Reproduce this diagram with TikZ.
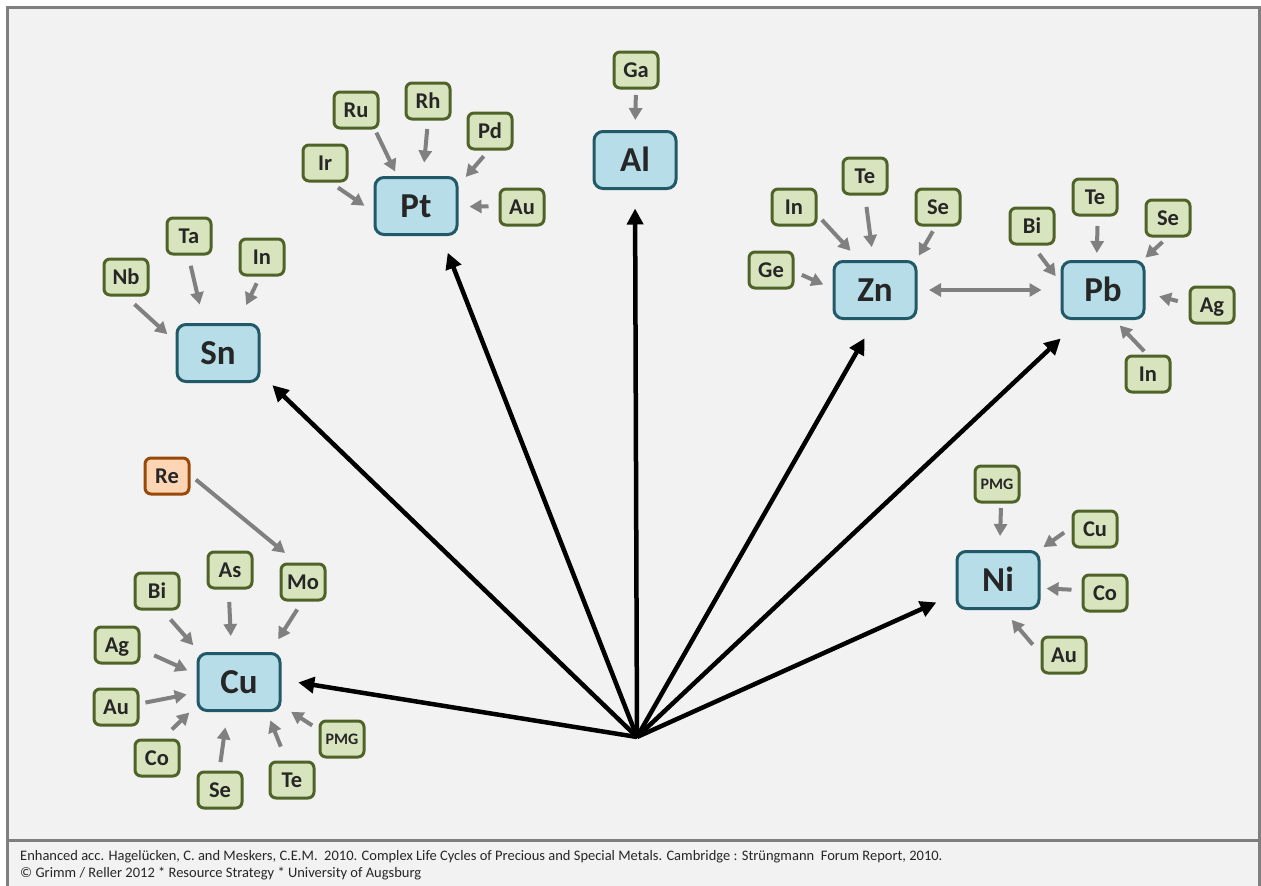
\documentclass[tikz,border=0pt]{standalone}
\usepackage{fontspec}
\setmainfont{Carlito}
\usetikzlibrary{arrows.meta}
\definecolor{bg}{HTML}{F2F2F2}
\definecolor{framec}{HTML}{7F7F7F}
\definecolor{mfill}{HTML}{B7DEE8}
\definecolor{mdraw}{HTML}{215968}
\definecolor{sfill}{HTML}{D7E4BD}
\definecolor{sdraw}{HTML}{4F6228}
\definecolor{rfill}{HTML}{FCD5B5}
\definecolor{rdraw}{HTML}{984807}
\definecolor{txt}{HTML}{262626}
\definecolor{garrow}{HTML}{808080}
\tikzset{
  mainbox/.style={draw=mdraw, fill=mfill, line width=3pt, rounded corners=9pt,
    minimum width=82pt, minimum height=57pt, inner sep=0pt, text=txt,
    font=\fontsize{35}{40}\selectfont\bfseries, text height=22pt, text depth=0pt},
  smallbox/.style={draw=sdraw, fill=sfill, line width=3pt, rounded corners=6pt,
    minimum width=44pt, minimum height=36pt, inner sep=0pt, text=txt,
    font=\fontsize{22.5}{26}\selectfont\bfseries, text height=14.5pt, text depth=0pt},
  tinybox/.style={smallbox, font=\fontsize{16}{18}\selectfont\bfseries, text height=10pt},
  rebox/.style={smallbox, draw=rdraw, fill=rfill},
  ga/.style={draw=garrow, line width=4pt, -{Triangle[length=12pt,width=13pt]}},
  gab/.style={draw=garrow, line width=4pt, {Triangle[length=12pt,width=13pt]}-{Triangle[length=12pt,width=13pt]}},
  ba/.style={draw=black, line width=4.5pt, -{Triangle[length=16pt,width=16pt]}},
  foot/.style={anchor=base west, inner sep=0pt, text=txt, font=\fontsize{14.5}{16}\selectfont},
}
\begin{document}
\begin{tikzpicture}[x=1pt,y=-1pt]
\useasboundingbox (0,0) rectangle (1261,886);
\fill[white] (0,0) rectangle (1261,886);
\draw[framec, fill=bg, line width=3pt] (7.5,7.5) rectangle (1259.5,900);
\draw[framec, line width=3pt] (7.5,840.5) -- (1259.5,840.5);

% main nodes
\node[mainbox] (Pt) at (416,206) {Pt};
\node[mainbox] (Al) at (635,160) {Al};
\node[mainbox] (Sn) at (218,353) {Sn};
\node[mainbox] (Zn) at (875,290) {Zn};
\node[mainbox] (Pb) at (1103,290) {Pb};
\node[mainbox] (Ni) at (998,580) {Ni};
\node[mainbox] (Cu) at (239,682) {Cu};

% Pt group
\node[smallbox] (ptIr) at (325,163) {Ir};
\node[smallbox] (ptRu) at (356,110) {Ru};
\node[smallbox] (ptRh) at (428,101) {Rh};
\node[smallbox] (ptPd) at (490,131) {Pd};
\node[smallbox] (ptAu) at (522,207) {Au};
% Al group
\node[smallbox] (alGa) at (636,70) {Ga};
% Sn group
\node[smallbox] (snNb) at (126,277) {Nb};
\node[smallbox] (snTa) at (189,236) {Ta};
\node[smallbox] (snIn) at (262,257) {In};
% Zn group
\node[smallbox] (znIn) at (794,207) {In};
\node[smallbox] (znTe) at (865,176) {Te};
\node[smallbox] (znSe) at (938,207) {Se};
\node[smallbox] (znGe) at (771,270) {Ge};
% Pb group
\node[smallbox] (pbBi) at (1032,226) {Bi};
\node[smallbox] (pbTe) at (1095,197) {Te};
\node[smallbox] (pbSe) at (1168,218) {Se};
\node[smallbox] (pbAg) at (1212,305) {Ag};
\node[smallbox] (pbIn) at (1148,374) {In};
% Ni group
\node[tinybox] (niPMG) at (997,484) {PMG};
\node[smallbox] (niCu) at (1095,529) {Cu};
\node[smallbox] (niCo) at (1105,593) {Co};
\node[smallbox] (niAu) at (1064,655) {Au};
% Cu group
\node[rebox] (cuRe) at (167,476) {Re};
\node[smallbox] (cuAs) at (230,570) {As};
\node[smallbox] (cuMo) at (303,582) {Mo};
\node[smallbox] (cuBi) at (157,591) {Bi};
\node[smallbox] (cuAg) at (117,645) {Ag};
\node[smallbox] (cuAu) at (116,707) {Au};
\node[smallbox] (cuCo) at (157,758) {Co};
\node[smallbox] (cuSe) at (220,790) {Se};
\node[smallbox] (cuTe) at (292,780) {Te};
\node[tinybox] (cuPMG) at (342,739) {PMG};

% gray arrows
\draw[ga, shorten <=9pt, shorten >=11pt] (ptIr.-74) -- (Pt.188);
\draw[ga, shorten <=3.5pt, shorten >=5pt] (ptRu.-46) -- (Pt.122);
\draw[ga, shorten <=8.5pt, shorten >=13.5pt] (ptRh.-90) -- (Pt.77);
\draw[ga, shorten <=7.5pt, shorten >=11pt] (ptPd.-94) -- (Pt.26);
\draw[ga, shorten <=10pt, shorten >=11pt] (ptAu.178) -- (Pt.-1);
\draw[ga, shorten <=5.5pt, shorten >=10pt] (alGa.south) -- (Al.north);
\draw[ga, shorten <=11.5pt, shorten >=11pt] (snNb.-90) -- (Sn.165);
\draw[ga, shorten <=10.5pt, shorten >=19pt] (snTa.-92) -- (Sn.115);
\draw[ga, shorten <=7.5pt, shorten >=20pt] (snIn.-96) -- (Sn.57);
\draw[ga, shorten <=6.5pt, shorten >=12.5pt] (znIn.-19) -- (Zn.118);
\draw[ga, shorten <=11.5pt, shorten >=13pt] (znTe.-90) -- (Zn.93);
\draw[ga, shorten <=5.5pt, shorten >=5pt] (znSe.-97) -- (Zn.36);
\draw[ga, shorten <=8pt, shorten >=10pt] (znGe.-4) -- (Zn.178);
\draw[gab, shorten <=11.5pt, shorten >=19pt] (Zn.east) -- (Pb.west);
\draw[ga, shorten <=10.5pt, shorten >=8pt] (pbBi.-88) -- (Pb.170);
\draw[ga, shorten <=9.5pt, shorten >=7pt] (pbTe.-82) -- (Pb.102);
\draw[ga, shorten <=6.5pt, shorten >=3.5pt] (pbSe.-92) -- (Pb.37);
\draw[ga, shorten <=11pt, shorten >=14pt] (pbAg.177) -- (Pb.-4);
\draw[ga, shorten <=4.5pt, shorten >=7.5pt] (pbIn.92) -- (Pb.-69);
\draw[ga, shorten <=4.5pt, shorten >=14pt] (niPMG.-78) -- (Ni.87);
\draw[ga, shorten <=9pt, shorten >=5pt] (niCu.176) -- (Ni.36);
\draw[ga, shorten <=10pt, shorten >=6pt] (niCo.173) -- (Ni.-11);
\draw[ga, shorten <=12pt, shorten >=13pt] (niAu.177) -- (Ni.-80);
\draw[ga, shorten <=7pt, shorten >=15pt] (cuRe.2) -- (cuMo.108);
\draw[ga, shorten <=12.5pt, shorten >=16pt] (cuAs.-94) -- (Cu.104);
\draw[ga, shorten <=9.5pt, shorten >=15pt] (cuMo.-92) -- (Cu.44);
\draw[ga, shorten <=12pt, shorten >=9pt] (cuBi.-74) -- (Cu.143);
\draw[ga, shorten <=15pt, shorten >=10pt] (cuAg.-10) -- (Cu.170);
\draw[ga, shorten <=6pt, shorten >=10pt] (cuAu.8) -- (Cu.194);
\draw[ga, shorten <=13pt, shorten >=10pt] (cuCo.74) -- (Cu.209);
\draw[ga, shorten <=8.5pt, shorten >=15.5pt] (cuSe.92) -- (Cu.249);
\draw[ga, shorten <=15pt, shorten >=9pt] (cuTe.106) -- (Cu.-47);
\draw[ga, shorten <=7.5pt, shorten >=11.5pt] (cuPMG.158) -- (Cu.-29);

% black arrows
\coordinate (O) at (637,737);
\draw[ba, shorten >=18pt] (O) -- (Pt.-50);
\draw[ba, shorten >=18.5pt] (O) -- (Al.south);
\draw[ba, shorten >=16.5pt] (O) -- (Sn.-26);
\draw[ba, shorten >=17pt] (O) -- (Cu.3);
\draw[ba, shorten >=21pt] (O) -- (Zn.south);
\draw[ba, shorten >=27pt] (O) -- (Pb.-127);
\draw[ba, shorten >=21pt] (O) -- (Ni.-162);

% footer
\node[foot] (ft1) at (20,860) {Enhanced acc. Hagelücken, C. and Meskers, C.E.M.\ \ 2010. Complex Life Cycles of Precious and Special Metals. Cambridge : Strüngmann\ \ Forum Report, 2010.};
\node[foot] (ft2) at (20,877.5) {© Grimm / Reller 2012 * Resource Strategy * University of Augsburg};
\end{tikzpicture}
\end{document}
